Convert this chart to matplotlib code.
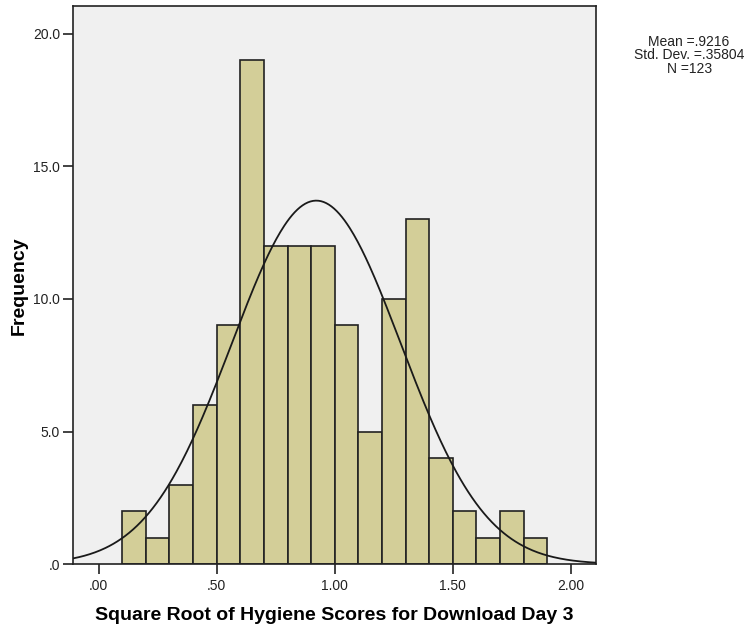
import numpy as np
import matplotlib.pyplot as plt

# histogram bins (bin left edges) and counts
bin_lefts = [0.1, 0.2, 0.3, 0.4, 0.5, 0.6, 0.7, 0.8, 0.9, 1.0,
             1.1, 1.2, 1.3, 1.4, 1.5, 1.6, 1.7, 1.8]
counts = [2, 1, 3, 6, 9, 19, 12, 12, 12, 9, 5, 10, 13, 4, 2, 1, 2, 1]
bin_width = 0.1

mean = 0.9216
std_dev = 0.35804
n_cases = 123

x_ticks = [0.0, 0.5, 1.0, 1.5, 2.0]
x_tick_labels = ['.00', '.50', '1.00', '1.50', '2.00']
y_ticks = [0, 5, 10, 15, 20]
y_tick_labels = ['.0', '5.0', '10.0', '15.0', '20.0']

plt.rcParams['font.family'] = ['Liberation Sans', 'DejaVu Sans']

fig = plt.figure(figsize=(7.49, 6.29), dpi=100)
ax = fig.add_axes([0.097, 0.103, 0.699, 0.887])
ax.set_facecolor('#f0f0f0')

ax.bar(bin_lefts, counts, width=bin_width, align='edge',
       color='#d3ce98', edgecolor='#222222', linewidth=1.2, zorder=2)

# normal curve scaled to counts
xs = np.linspace(-0.11, 2.11, 400)
ys = n_cases * bin_width * np.exp(-0.5 * ((xs - mean) / std_dev) ** 2) / (std_dev * np.sqrt(2 * np.pi))
ax.plot(xs, ys, color='#1a1a1a', linewidth=1.3, zorder=3)

ax.set_xlim(-0.11, 2.107)
ax.set_ylim(0, 21.03)
ax.set_xticks(x_ticks)
ax.set_xticklabels(x_tick_labels)
ax.set_yticks(y_ticks)
ax.set_yticklabels(y_tick_labels)
ax.tick_params(direction='out', length=7, width=1.2, labelsize=10,
               colors='#222222', pad=2)
ax.tick_params(axis='x', pad=4)

for s in ax.spines.values():
    s.set_linewidth(1.2)
    s.set_color('#222222')

ax.set_xlabel('Square Root of Hygiene Scores for Download Day 3',
              fontsize=14, fontweight='bold', va='center')
ax.set_ylabel('Frequency', fontsize=14, fontweight='bold', va='center')
ax.xaxis.set_label_coords(0.5, -0.092)
ax.yaxis.set_label_coords(-0.102, 0.5)

fig.text(0.920, 0.944, f'Mean =.{str(mean)[2:]}\nStd. Dev. =.{str(std_dev)[2:]}\nN ={n_cases}',
         ha='center', va='top', fontsize=10, linespacing=0.93, color='#222222')

fig.savefig('out.png', dpi=100)
